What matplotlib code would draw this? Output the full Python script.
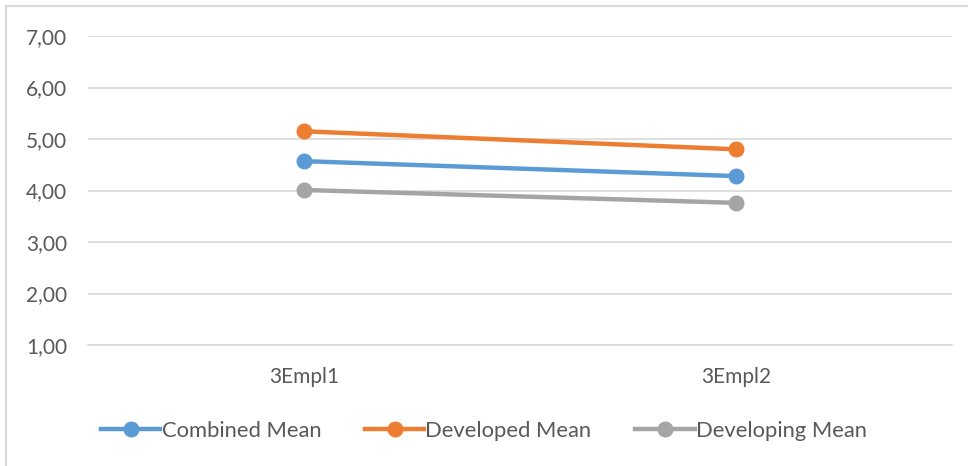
import numpy as np
import matplotlib
matplotlib.use("Agg")
import matplotlib.pyplot as plt
from matplotlib.ticker import FuncFormatter
from matplotlib.lines import Line2D

# Data
categories = ["3Empl1", "3Empl2"]
combined_mean = [4.57, 4.28]
developed_mean = [5.15, 4.80]
developing_mean = [4.01, 3.76]

series = [
    ("Combined Mean", combined_mean, "#5B9BD5"),
    ("Developed Mean", developed_mean, "#ED7D31"),
    ("Developing Mean", developing_mean, "#A5A5A5"),
]

plt.rcParams["font.family"] = ["Lato", "DejaVu Sans"]
text_color = "#595959"
fsize = 15

fig = plt.figure(figsize=(9.68, 4.66), dpi=100)
ax = fig.add_axes([88 / 968, 1 - 345 / 466, (952 - 88) / 968, (345 - 36) / 466])

x = np.arange(len(categories))
for name, vals, color in series:
    ax.plot(
        x, vals,
        color=color,
        linewidth=3.2,
        marker="o",
        markersize=10.5,
        solid_capstyle="round",
        label=name,
        zorder=5
    )

ax.set_xlim(-0.5, len(categories) - 0.5)
ax.set_ylim(1, 7)
ax.set_yticks(np.arange(1, 8))
ax.yaxis.set_major_formatter(FuncFormatter(lambda v, p: f"{v:.2f}".replace(".", ",")))
ax.set_xticks(x)
ax.set_xticklabels(categories)

ax.grid(axis="y", color="#d9d9d9", linewidth=1.2)
ax.set_axisbelow(True)
for side in ["top", "right", "left"]:
    ax.spines[side].set_visible(False)
ax.spines["bottom"].set_color("#d9d9d9")
ax.spines["bottom"].set_linewidth(1.2)

ax.tick_params(axis="both", length=0, labelsize=fsize, colors=text_color)
ax.tick_params(axis="y", pad=15)
ax.tick_params(axis="x", pad=16)

handles = [
    Line2D([0], [0], color=c, linewidth=3.2, marker="o", markersize=10.5)
    for _, _, c in series
]
leg = fig.legend(
    handles, [s[0] for s in series],
    loc="center",
    bbox_to_anchor=(0.5, 1 - 431 / 466),
    ncol=3,
    frameon=False,
    fontsize=15.8,
    handlelength=2.7,
    handletextpad=0.05,
    columnspacing=2.0,
)
for t in leg.get_texts():
    t.set_color(text_color)

# chart border (left and top edges visible)
fig.add_artist(Line2D([6 / 968, 6 / 968], [0, 1 - 6 / 466], color="#d9d9d9",
                      linewidth=1.5, transform=fig.transFigure))
fig.add_artist(Line2D([6 / 968, 1], [1 - 6 / 466, 1 - 6 / 466], color="#d9d9d9",
                      linewidth=1.5, transform=fig.transFigure))

fig.savefig("out.png", dpi=100)
